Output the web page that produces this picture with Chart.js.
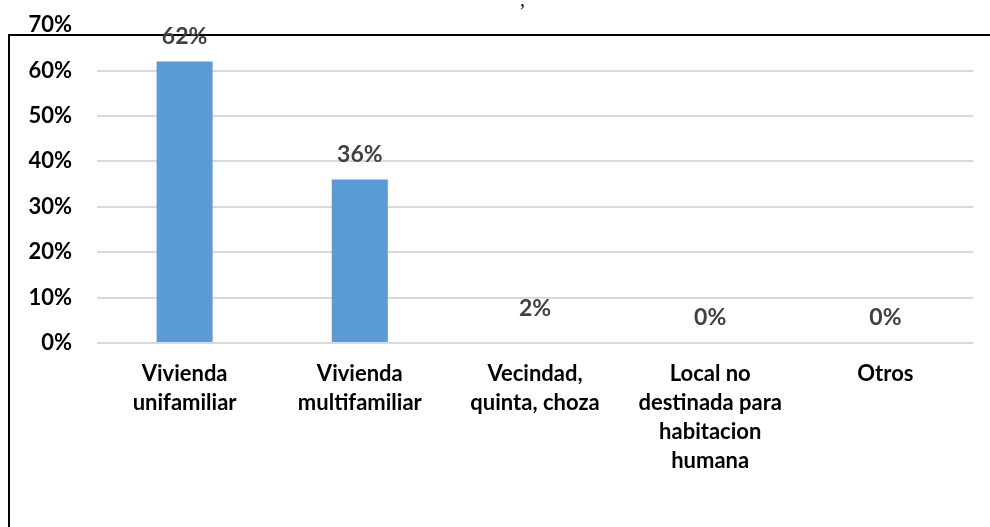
<!DOCTYPE html>
<html>
<head>
<meta charset="utf-8">
<script src="https://cdn.jsdelivr.net/npm/chart.js@4.4.1/dist/chart.umd.min.js"></script>
<style>
  html, body { margin: 0; padding: 0; background: #fff; overflow: hidden; }
  #wrap { position: relative; width: 990px; height: 527px; overflow: hidden; }
  #grafico { position: absolute; left: 0; top: -13px; }
  #comma { position: absolute; left: 520px; top: -12px; font: 20px "Liberation Serif", serif; color: #000; }
</style>
</head>
<body>
<div id="wrap">
  <canvas id="grafico" width="990" height="540"></canvas>
  <div id="comma">,</div>
</div>
<script>
// categorias y valores (%)
const categorias = [
  ["Vivienda", "unifamiliar"],
  ["Vivienda", "multifamiliar"],
  ["Vecindad,", "quinta, choza"],
  ["Local no", "destinada para", "habitacion", "humana"],
  ["Otros"]
];
const porcentajes = [62, 36, 2, 0, 0];
const ticksY = [0, 10, 20, 30, 40, 50, 60, 70];

const fuente = "Lato, 'Open Sans', sans-serif";

// marco negro del grafico (canvas desplazado 13px hacia arriba)
const marco = {
  id: "marco",
  beforeDraw(chart) {
    const ctx = chart.ctx;
    ctx.save();
    ctx.strokeStyle = "#000";
    ctx.lineWidth = 2;
    ctx.strokeRect(9, 48, 1100, 700);
    ctx.restore();
  }
};

// etiquetas de valor encima de las barras
const etiquetas = {
  id: "etiquetas",
  afterDatasetsDraw(chart) {
    const ctx = chart.ctx;
    const meta = chart.getDatasetMeta(0);
    ctx.save();
    ctx.font = "bold 23px " + fuente;
    ctx.fillStyle = "#404040";
    ctx.textAlign = "center";
    ctx.textBaseline = "middle";
    meta.data.forEach((bar, i) => {
      ctx.fillText(porcentajes[i] + "%", bar.x, bar.y - 25);
    });
    ctx.restore();
  }
};

Chart.defaults.font.family = fuente;

const ctx = document.getElementById("grafico");
new Chart(ctx, {
  type: "bar",
  data: {
    labels: categorias,
    datasets: [{
      data: porcentajes,
      backgroundColor: ["#5b9bd5", "#5b9bd5", "rgba(0,0,0,0)", "#5b9bd5", "#5b9bd5"],
      borderWidth: 0,
      categoryPercentage: 1,
      barPercentage: 0.32
    }]
  },
  options: {
    responsive: false,
    animation: false,
    layout: { padding: { top: 0, right: 17, bottom: 0, left: 0 } },
    plugins: {
      legend: { display: false },
      tooltip: { enabled: false }
    },
    scales: {
      x: {
        grid: { display: false },
        border: { display: false },
        ticks: {
          color: "#000",
          font: { size: 22, weight: "bold", lineHeight: 1.32 },
          padding: 8,
          maxRotation: 0,
          autoSkip: false
        },
        afterFit(scale) { scale.height = 184; }
      },
      y: {
        min: 0,
        max: 70,
        afterBuildTicks(scale) { scale.ticks = ticksY.map(v => ({ value: v })); },
        grid: {
          color: c => (c.tick && c.tick.value === 70) ? "rgba(0,0,0,0)" : "#d9d9d9",
          lineWidth: 2,
          drawTicks: false
        },
        border: { display: false },
        ticks: {
          color: "#000",
          font: { size: 22, weight: "bold" },
          padding: 25,
          callback: v => v + "%"
        },
        afterFit(scale) { scale.width = 97; }
      }
    }
  },
  plugins: [marco, etiquetas]
});
</script>
</body>
</html>
